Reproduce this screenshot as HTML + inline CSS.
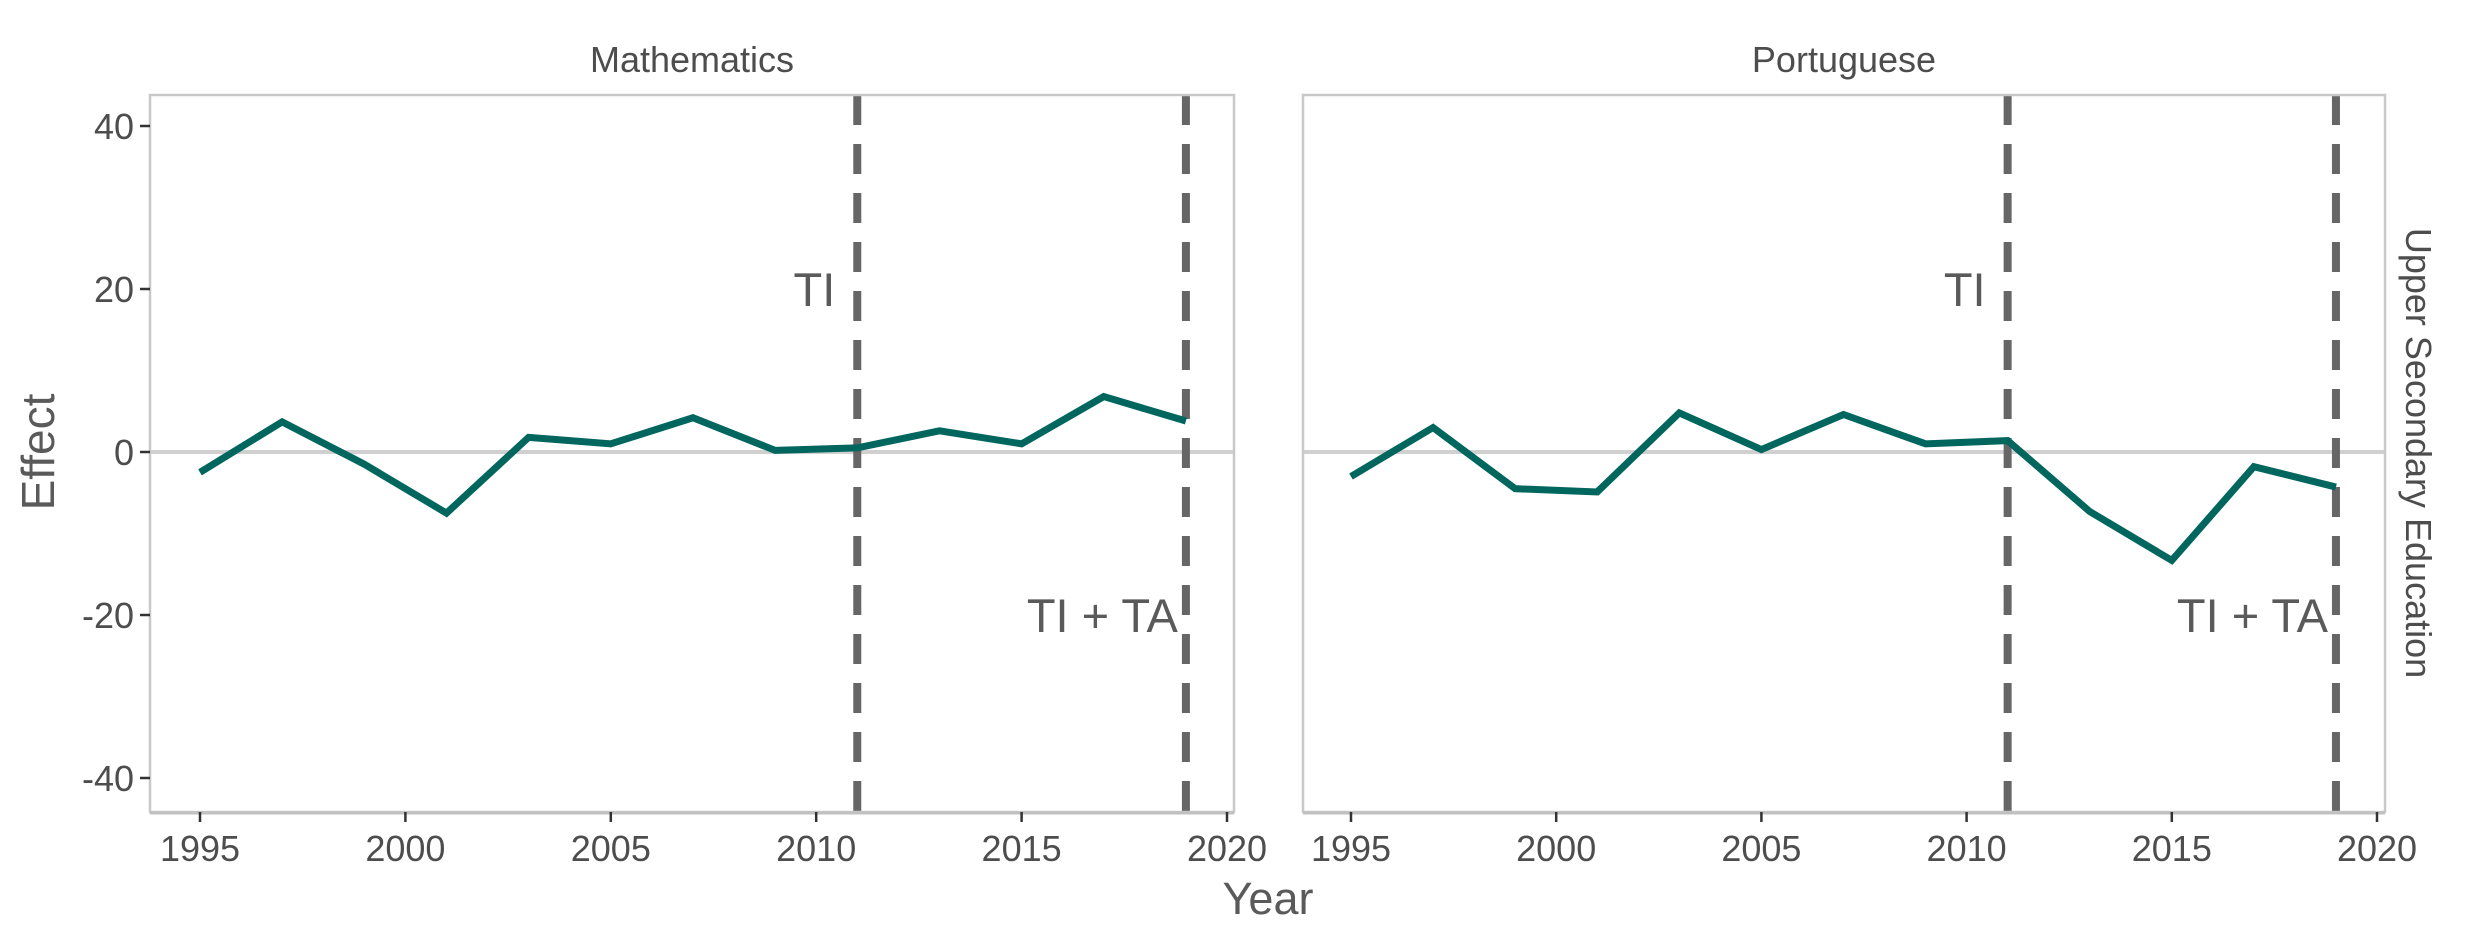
<!DOCTYPE html>
<html><head><meta charset="utf-8"><style>
html,body{margin:0;padding:0;background:#fff}
svg{display:block;font-family:"Liberation Sans",sans-serif}
</style></head><body>
<svg id="chart" width="2480" height="944" viewBox="0 0 2480 944" xmlns="http://www.w3.org/2000/svg"></svg>
<script>
const years=[1995,1997,1999,2001,2003,2005,2007,2009,2011,2013,2015,2017,2019];
const mathValues=[-2.5,3.7,-1.5,-7.5,1.8,1.0,4.2,0.2,0.5,2.6,1.0,6.8,3.8];
const portValues=[-3.0,3.0,-4.5,-4.9,4.8,0.3,4.6,1.0,1.4,-7.3,-13.3,-1.8,-4.3];
const xTicks=[1995,2000,2005,2010,2015,2020];
const yTicks=[-40,-20,0,20,40];
const eventYears=[2011,2019];
const eventLabels=["TI","TI + TA"];
const eventLabelY=[20,-20];

const NS="http://www.w3.org/2000/svg";
const svgEl=document.getElementById('chart');
function mk(tag,attrs,parent){const e=document.createElementNS(NS,tag);for(const k in attrs)e.setAttribute(k,attrs[k]);(parent||svgEl).appendChild(e);return e;}
const panelTop=95,panelBottom=812;
const labelGap=[22,8];
function yScale(v){return 452-v*8.15;}
const panels=[
 {name:'mathematics',title:'Mathematics',left:150,right:1234,x0:200,x1:1227,vals:mathValues},
 {name:'portuguese',title:'Portuguese',left:1303,right:2385,x0:1351,x1:2377,vals:portValues}
];
panels.forEach((p,pi)=>{
 const xs=v=>p.x0+(v-1995)*(p.x1-p.x0)/25;
 const g=mk('g',{});
 
 
 const st=mk('text',{x:(p.left+p.right)/2,y:72,'text-anchor':'middle','font-size':36,fill:'#4d4d4d'},g);
 st.textContent=p.title;
 
 
 const zl=mk('line',{x1:p.left,x2:p.right,y1:yScale(0),y2:yScale(0),stroke:'#d0d0d0','stroke-width':4},g);
 
 
 eventYears.forEach((ey,i)=>{
  const l=mk('line',{x1:xs(ey),x2:xs(ey),y1:panelTop,y2:panelBottom,stroke:'#666','stroke-width':8,'stroke-dasharray':'30 19'},g);
  
  
  const t=mk('text',{x:xs(ey)-labelGap[i],y:yScale(eventLabelY[i])+17,'text-anchor':'end','font-size':47,fill:'#5a5a5a'},g);
  t.textContent=eventLabels[i];
  
  
 });
 const pts=years.map((yr,i)=>xs(yr)+','+yScale(p.vals[i])).join(' ');
 const pl=mk('polyline',{points:pts,fill:'none',stroke:'#00665e','stroke-width':7,'stroke-linejoin':'miter'},g);
 
 
 const b=mk('rect',{x:p.left,y:panelTop,width:p.right-p.left,height:panelBottom-panelTop,fill:'none',stroke:'#c8c8c8','stroke-width':2.5},g);
 
 
 mk('line',{x1:p.left,x2:p.right,y1:panelBottom+1,y2:panelBottom+1,stroke:'#c0c0c0','stroke-width':3},g);
 xTicks.forEach(v=>{
  mk('line',{x1:xs(v),x2:xs(v),y1:panelBottom,y2:panelBottom+10,stroke:'#333','stroke-width':2.5},g);
  const t=mk('text',{x:xs(v),y:panelBottom+49,'text-anchor':'middle','font-size':36,fill:'#4d4d4d'},g);
  t.textContent=v;
  
  
 });
 if(pi===0){
  yTicks.forEach(v=>{
   mk('line',{x1:p.left-10,x2:p.left,y1:yScale(v),y2:yScale(v),stroke:'#333','stroke-width':2.5},g);
   const t=mk('text',{x:p.left-16,y:yScale(v)+13,'text-anchor':'end','font-size':36,fill:'#4d4d4d'},g);
   t.textContent=v;
   
   
  });
 }
});
const yt=mk('text',{x:0,y:0,transform:'translate(54,452) rotate(-90)','text-anchor':'middle','font-size':46,fill:'#5a5a5a'});
yt.textContent='Effect';


const xt=mk('text',{x:1268,y:914,'text-anchor':'middle','font-size':45,fill:'#5a5a5a'});
xt.textContent='Year';


const rs=mk('text',{x:0,y:0,transform:'translate(2406,453) rotate(90)','text-anchor':'middle','font-size':36,fill:'#4d4d4d'});
rs.textContent='Upper Secondary Education';


</script>
</body></html>
